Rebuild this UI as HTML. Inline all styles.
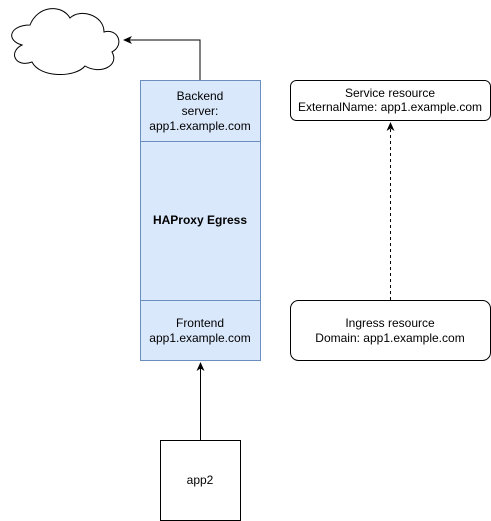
<!DOCTYPE html>
<html><head><style>
body{margin:0;background:#fff;}
svg{display:block;font-family:"Liberation Sans",sans-serif;font-size:12px;}
</style></head><body>
<svg width="491" height="521" viewBox="0 0 491 521">
<defs><marker id="a" markerWidth="10" markerHeight="10" refX="8" refY="5" orient="auto" markerUnits="userSpaceOnUse"><path d="M0,1 L9,5 L0,9 L2.5,5 Z" fill="#000"/></marker></defs>
<path d="M30,25 C10,25 5,40 22,45 C8,52 15,68 32,62 C40,78 75,78 85,66 C100,75 120,66 112,52 C125,45 118,28 104,32 C104,15 80,8 70,18 C62,4 38,5 30,25 Z" fill="#fff" stroke="#000"/>
<polyline points="200,80 200,40 124,40" fill="none" stroke="#000" marker-end="url(#a)"/>
<rect x="140.5" y="80.5" width="120" height="280" fill="#dae8fc" stroke="#6c8ebf"/>
<line x1="140.5" y1="141.5" x2="260.5" y2="141.5" stroke="#6c8ebf"/>
<line x1="140.5" y1="300.5" x2="260.5" y2="300.5" stroke="#6c8ebf"/>
<text x="200" y="100" text-anchor="middle">Backend</text>
<text x="200" y="115" text-anchor="middle">server:</text>
<text x="200" y="130" text-anchor="middle">app1.example.com</text>
<text x="200" y="224" text-anchor="middle" font-weight="bold">HAProxy Egress</text>
<text x="200" y="327" text-anchor="middle">Frontend</text>
<text x="200" y="342" text-anchor="middle">app1.example.com</text>
<rect x="290.5" y="80.5" width="200" height="40" rx="6" fill="#fff" stroke="#000"/>
<text x="390" y="97" text-anchor="middle">Service resource</text>
<text x="390" y="111" text-anchor="middle">ExternalName: app1.example.com</text>
<rect x="290.5" y="300.5" width="200" height="60" rx="8" fill="#fff" stroke="#000"/>
<text x="390" y="327" text-anchor="middle">Ingress resource</text>
<text x="390" y="342" text-anchor="middle">Domain: app1.example.com</text>
<line x1="390.5" y1="300" x2="390.5" y2="123" stroke="#000" stroke-dasharray="3,3" marker-end="url(#a)"/>
<rect x="160.5" y="440.5" width="80" height="80" fill="#fff" stroke="#000"/>
<text x="200" y="484" text-anchor="middle">app2</text>
<line x1="200.5" y1="440" x2="200.5" y2="363" stroke="#000" marker-end="url(#a)"/>
</svg>
</body></html>
